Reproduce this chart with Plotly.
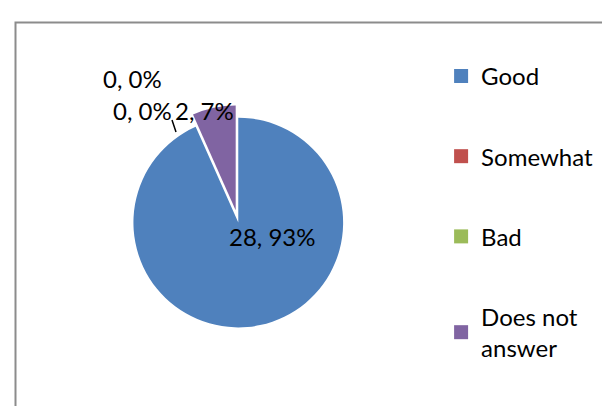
import plotly.graph_objects as go

categories = ["Good", "Somewhat", "Bad", "Does not answer"]
legend_labels = ["Good", "Somewhat", "Bad", "Does not<br>answer"]
counts = [28, 0, 0, 2]
colors = ["#4F81BD", "#C0504D", "#9BBB59", "#8064A2"]

total = sum(counts)
texts = [f"{c}, {round(100 * c / total)}%" for c in counts]

FONT = "Lato"
FS = 24

fig = go.Figure()
fig.add_trace(go.Pie(
    labels=categories,
    values=counts,
    text=texts,
    textinfo="none",
    sort=False,
    direction="clockwise",
    rotation=0,
    pull=[0, 0, 0, 0.12],
    marker=dict(colors=colors, line=dict(width=0)),
    showlegend=False,
    hoverinfo="label+value+percent",
    domain=dict(x=[0.185, 0.570], y=[0.182, 0.761]),
))

for lab, col in zip(legend_labels, colors):
    fig.add_trace(go.Scatter(
        x=[None], y=[None], mode="markers", name=lab,
        marker=dict(symbol="square", size=14, color=col),
        legendgroup=lab, showlegend=True,
    ))

# data labels placed as in the reference
label_pos = [(264, 228), (124, 70), (134, 102), (196, 102)]
annotations = []
for t, pos in zip(texts, label_pos):
    annotations.append(dict(
        x=pos[0] / 610, y=1 - pos[1] / 406, xref="paper", yref="paper",
        text=t, showarrow=False, xanchor="center", yanchor="middle",
        font=dict(family=FONT, size=FS, color="black"),
    ))

fig.update_layout(
    width=610, height=406,
    margin=dict(l=0, r=0, t=0, b=0),
    paper_bgcolor="white", plot_bgcolor="white",
    xaxis=dict(visible=False), yaxis=dict(visible=False),
    legend=dict(
        x=0.71, y=0.887, xanchor="left", yanchor="top",
        font=dict(family=FONT, size=FS, color="black"),
        tracegroupgap=46, itemwidth=30,
        bgcolor="rgba(0,0,0,0)",
    ),
    annotations=annotations,
    shapes=[
        dict(
            type="rect", xref="paper", yref="paper",
            x0=7.5 / 610, y0=-0.02, x1=1.02, y1=1 - 14.5 / 406,
            line=dict(color="#8C8C8C", width=2),
        ),
        dict(
            type="line", xref="paper", yref="paper",
            x0=164 / 610, y0=1 - 112 / 406, x1=168 / 610, y1=1 - 124 / 406,
            line=dict(color="black", width=1.5),
        ),
    ],
)

fig.write_html("out.html")
